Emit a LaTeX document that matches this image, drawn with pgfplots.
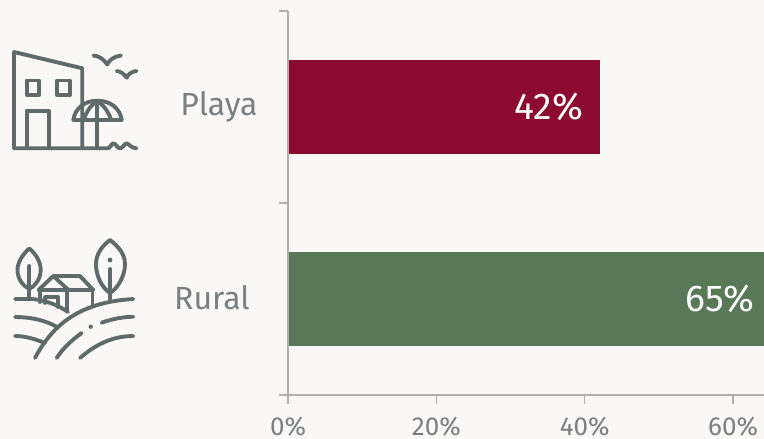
\documentclass[border=0pt]{standalone}
\usepackage{pgfplots}
\pgfplotsset{compat=1.18}
\usepackage{fontspec}
\setmainfont{Fira Sans}
\definecolor{bg}{HTML}{FAF8F6}
\definecolor{axisc}{HTML}{B0B0AE}
\definecolor{txt}{HTML}{7A8082}
\definecolor{icon}{HTML}{5F6A6A}
\definecolor{crim}{HTML}{8C0A30}
\definecolor{verde}{HTML}{587858}
\begin{document}
\begin{tikzpicture}
\useasboundingbox (0pt,0pt) rectangle (573pt,-329.25pt);
\clip (0pt,0pt) rectangle (573pt,-329.25pt);
\fill[bg] (0pt,0pt) rectangle (573pt,-329.25pt);
\begin{axis}[
  at={(216pt,-296.25pt)}, anchor=south west,
  width=367.2pt, height=288pt,
  scale only axis,
  xmin=0, xmax=66, ymin=0, ymax=2,
  axis x line=bottom, axis y line=left,
  axis on top,
  axis line style={axisc,line width=1pt,-},
  xtick style={axisc,line width=0.9pt},
  ytick style={axisc,line width=0.9pt},
  tick align=outside,
  tickwidth=6.75pt,
  xtick={0,20,40,60},
  ytick={0,1,2},
  yticklabels={},
  xticklabel={\pgfmathprintnumber{\tick}\%},
  /pgf/number format/assume math mode=true,
  xticklabel style={font=\fontsize{19.5pt}{22pt}\selectfont,text=txt,inner sep=0pt,yshift=-9.5pt,anchor=north,text height=14pt,text depth=0pt},
  clip=true,
  nodes near coords={\pgfmathprintnumber[assume math mode=true]{\pgfplotspointmeta}\%},
  point meta=x,
  nodes near coords style={anchor=east,font=\fontsize{28pt}{30pt}\selectfont,text=white,inner sep=0pt,xshift=-12pt},
]
\addplot[xbar,bar width=70.5pt,bar shift=0pt,fill=crim,draw=none] coordinates {(42,1.5)};
\addplot[xbar,bar width=70.5pt,bar shift=0pt,fill=verde,draw=none] coordinates {(65,0.5)};
\end{axis}
\begin{scope}[x=0.75pt,y=-0.75pt]
\node[font=\fontsize{24pt}{27pt}\selectfont,text=txt,inner sep=0pt] at (219,107) {Playa};
\node[font=\fontsize{24pt}{27pt}\selectfont,text=txt,inner sep=0pt] at (212,298) {Rural};
\end{scope}
\begin{scope}[x=0.75pt,y=-0.75pt,draw=icon,line width=2.9pt,line cap=round,line join=round,fill=none]
\draw (14,148.3) -- (14,52) -- (82.3,68.3) -- (82.3,148.3);
\draw (14,148.3) -- (108,148.3) .. controls (110,148.3) and (111,143.5) .. (113.5,143.5) .. controls (116,143.5) and (117,148.3) .. (120,148.3) .. controls (123,148.3) and (124,143.5) .. (126.7,143.5) .. controls (129,143.5) and (131,148.3) .. (136.5,148.3);
\draw (26.7,80.5) rectangle (39,95);
\draw (57.3,80.5) rectangle (70,95);
\draw (26.7,148.3) -- (26.7,110.7) -- (49,110.7) -- (49,148.3);
\draw (73.3,120) .. controls (75,108) and (85,100.7) .. (97.3,100.7) .. controls (110,100.7) and (120,108) .. (121.7,120) -- cycle;
\draw (97.3,100.7) -- (97.3,148.3);
\draw (97.3,100.7) .. controls (90,106) and (86,112) .. (84,120);
\draw (97.3,100.7) .. controls (104,106) and (109,112) .. (111,120);
\draw (93.5,55.5) .. controls (100,56) and (104,60) .. (107.3,64.5) .. controls (109,60) and (114,56.5) .. (121,55.5);
\draw (116.7,71) .. controls (121,71.5) and (124,74) .. (126.7,77.7) .. controls (128,74) and (132,71.5) .. (136.5,71);
\draw (29.3,248.5) .. controls (36,254) and (40.7,262) .. (40.7,270) .. controls (40.7,279) and (35,286) .. (29.3,289) .. controls (23,286) and (17.5,279) .. (17.5,270) .. controls (17.5,262) and (23,254) .. (29.3,248.5) -- cycle;
\draw (29.3,266) -- (29.3,298);
\draw (110,240) .. controls (118,246) and (125,254) .. (125,264) .. controls (125,276) and (118,288) .. (110,293) .. controls (102,288) and (96,276) .. (96,264) .. controls (96,254) and (102,246) .. (110,240) -- cycle;
\draw (110,269) -- (110,299);
\fill[icon,draw=none] (110,260) circle (2.4);
\draw (15,299) -- (32,299) .. controls (45,300) and (58,305) .. (68,312);
\draw (35,358) .. controls (55,320) and (85,302) .. (133.3,299);
\draw (15,317) .. controls (30,317) and (45,320) .. (57,327);
\draw (15,336) .. controls (25,336) and (35,339) .. (45,343);
\draw (56.7,358) .. controls (63,348) and (72,340) .. (81.7,333);
\fill[icon,draw=none] (90.7,326.7) circle (2.2);
\draw (101.7,322.7) .. controls (112,319) and (122,317) .. (133.3,316.7);
\draw (80,358) .. controls (95,345) and (112,336) .. (133.3,336);
\draw (38.5,290) -- (53.3,276) -- (68.5,290);
\draw (53.3,276) -- (80,276) -- (93.3,290) -- (38.5,290);
\draw (40,290) -- (40,302);
\draw (67,290) -- (67,310);
\draw (92.5,290) -- (92.5,304);
\draw (45,303) -- (45,297) -- (58,297) -- (58,307);
\end{scope}
\end{tikzpicture}
\end{document}
